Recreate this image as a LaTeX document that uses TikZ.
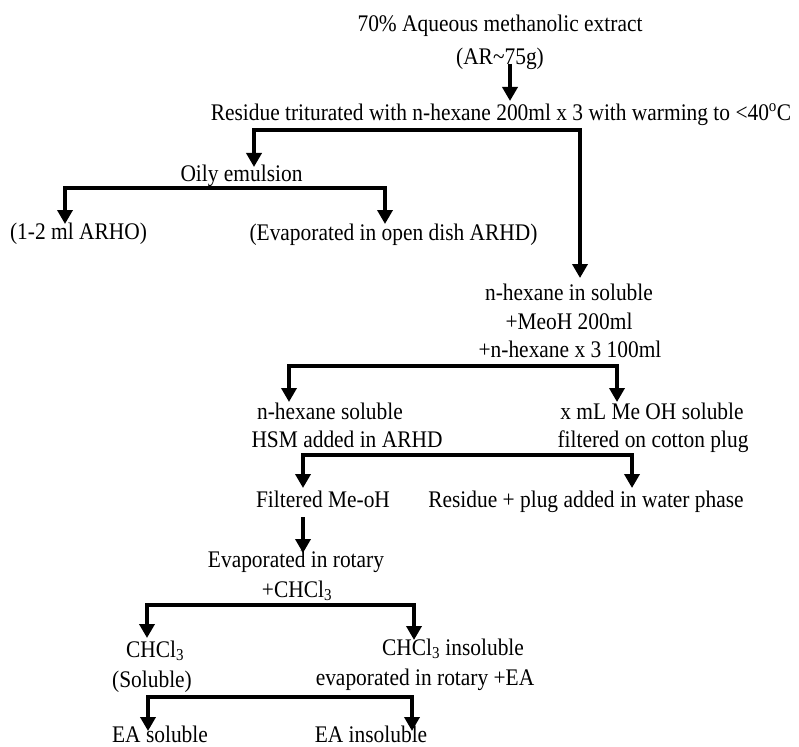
\documentclass[tikz,border=0pt]{standalone}
\usepackage{fontspec}
\setmainfont[FakeStretch=0.9]{Liberation Serif}
\usetikzlibrary{arrows.meta}
\begin{document}
\begin{tikzpicture}[x=1pt,y=-1pt,
  txt/.style={inner sep=0pt, anchor=base, font=\fontsize{23.8}{28}\selectfont},
  ln/.style={line width=4.5pt, line join=miter},
  arr/.style={ln, -{Triangle[width=15pt,length=14pt]}},
  fork/.style={ln, {Triangle[width=15pt,length=14pt]}-{Triangle[width=15pt,length=14pt]}}]
\useasboundingbox (0,0) rectangle (799,746);
% texts
\node[txt] (t1) at (500,32) {70\% Aqueous methanolic extract};
\node[txt] (t2) at (500,65) {(AR\textasciitilde 75g)};
\node[txt] (t3) at (501,121) {Residue triturated with n-hexane 200ml x 3 with warming to <40\textsuperscript{o}C};
\node[txt] (oily) at (241.5,181) {Oily emulsion};
\node[txt] (arho) at (78.5,239) {(1-2 ml ARHO)};
\node[txt] (evap) at (393.5,240) {(Evaporated in open dish ARHD)};
\node[txt] (nhis) at (569,300) {n-hexane in soluble};
\node[txt] (meoh) at (569,329) {+MeoH 200ml};
\node[txt] (nhx) at (570,357) {+n-hexane x 3 100ml};
\node[txt] (nhs) at (330,419) {n-hexane soluble};
\node[txt] (hsm) at (347,447) {HSM added in ARHD};
\node[txt] (xml) at (652,419) {x mL Me OH soluble};
\node[txt] (filt) at (653,447) {filtered on cotton plug};
\node[txt] (fmeoh) at (323,507) {Filtered Me-oH};
\node[txt] (resid) at (586,507) {Residue + plug added in water phase};
\node[txt] (evrot) at (296,567) {Evaporated in rotary};
\node[txt] (chcl) at (297,597) {+CHCl\textsubscript{3}};
\node[txt] (chs) at (155,657) {CHCl\textsubscript{3}};
\node[txt] (sol) at (152,687) {(Soluble)};
\node[txt] (chi) at (453,655) {CHCl\textsubscript{3} insoluble};
\node[txt] (evrea) at (425,685) {evaporated in rotary +EA};
\node[txt, text depth=0pt] (eas) at (160,742) {EA soluble};
\node[txt, text depth=0pt] (eai) at (371,742) {EA insoluble};
% connector points
\coordinate (a1s) at (510,64);   \coordinate (a1e) at (510,101);
\coordinate (b1l) at (254,167);  \coordinate (b1c) at (580,130);  \coordinate (b1r) at (580,278);
\coordinate (b2l) at (65,224);   \coordinate (b2c) at (385,188);  \coordinate (b2r) at (385,224);
\coordinate (b3l) at (289,402);  \coordinate (b3c) at (617,366);  \coordinate (b3r) at (617,402);
\coordinate (b4l) at (303,488);  \coordinate (b4c) at (632,455);  \coordinate (b4r) at (632,488);
\coordinate (a2s) at (303,517);  \coordinate (a2e) at (303,553);
\coordinate (b5l) at (147,638);  \coordinate (b5c) at (414,605);  \coordinate (b5r) at (414,640);
\coordinate (b6l) at (148,731);  \coordinate (b6c) at (412,697);  \coordinate (b6r) at (412,731);
% connectors
\draw[arr] (a1s) -- (a1e);
\draw[fork] (b1l) |- (b1c) -- (b1r);
\draw[fork] (b2l) |- (b2c) -- (b2r);
\draw[fork] (b3l) |- (b3c) -- (b3r);
\draw[fork] (b4l) |- (b4c) -- (b4r);
\draw[arr] (a2s) -- (a2e);
\draw[fork] (b5l) |- (b5c) -- (b5r);
\draw[fork] (b6l) |- (b6c) -- (b6r);
\end{tikzpicture}
\end{document}
